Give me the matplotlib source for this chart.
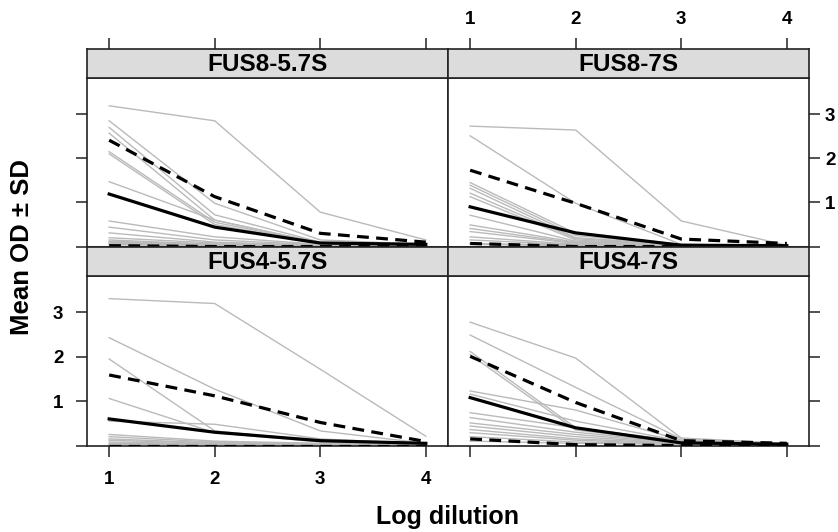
import matplotlib
matplotlib.use("Agg")
import matplotlib.pyplot as plt

plt.rcParams['font.family'] = ['Liberation Sans', 'DejaVu Sans']
plt.rcParams['font.weight'] = 'bold'

dilution = [1, 2, 3, 4]

# individual sera (grey lines), one row per serum, values at dilution 1..4
fus8_57_sera = [
    [3.19, 2.85, 0.78, 0.15],
    [2.85, 0.98, 0.15, 0.05],
    [2.70, 0.72, 0.10, 0.04],
    [2.57, 0.60, 0.08, 0.03],
    [2.15, 0.55, 0.07, 0.03],
    [2.10, 0.50, 0.06, 0.03],
    [1.47, 0.60, 0.08, 0.03],
    [0.58, 0.22, 0.05, 0.02],
    [0.44, 0.15, 0.04, 0.02],
    [0.31, 0.10, 0.03, 0.02],
    [0.20, 0.08, 0.03, 0.02],
    [0.15, 0.05, 0.02, 0.02],
    [0.12, 0.06, 0.03, 0.02],
    [0.10, 0.04, 0.02, 0.01],
    [0.08, 0.03, 0.02, 0.01],
    [0.06, 0.03, 0.02, 0.01],
    [0.04, 0.02, 0.01, 0.01],
]
fus8_57_mean = [1.19, 0.44, 0.08, 0.05]
fus8_57_upper = [2.41, 1.13, 0.30, 0.10]
fus8_57_lower = [0.02, 0.00, 0.00, 0.02]

fus8_7_sera = [
    [2.73, 2.64, 0.58, 0.03],
    [2.51, 0.98, 0.05, 0.02],
    [1.45, 0.30, 0.05, 0.02],
    [1.39, 0.25, 0.04, 0.02],
    [1.32, 0.20, 0.04, 0.02],
    [1.21, 0.18, 0.03, 0.02],
    [1.13, 0.15, 0.03, 0.02],
    [0.71, 0.12, 0.03, 0.02],
    [0.49, 0.10, 0.03, 0.01],
    [0.41, 0.08, 0.02, 0.01],
    [0.34, 0.07, 0.02, 0.01],
    [0.22, 0.05, 0.02, 0.01],
    [0.15, 0.04, 0.02, 0.01],
    [0.07, 0.03, 0.01, 0.01],
    [0.05, 0.02, 0.01, 0.01],
]
fus8_7_mean = [0.90, 0.31, 0.03, 0.02]
fus8_7_upper = [1.73, 0.98, 0.17, 0.07]
fus8_7_lower = [0.07, 0.00, 0.00, 0.00]

fus4_57_sera = [
    [3.31, 3.20, 1.72, 0.21],
    [2.43, 1.27, 0.33, 0.05],
    [1.95, 0.33, 0.10, 0.03],
    [1.06, 0.29, 0.08, 0.03],
    [0.55, 0.48, 0.15, 0.04],
    [0.25, 0.10, 0.05, 0.02],
    [0.20, 0.08, 0.04, 0.02],
    [0.15, 0.06, 0.03, 0.02],
    [0.12, 0.05, 0.03, 0.01],
    [0.08, 0.04, 0.02, 0.01],
    [0.05, 0.03, 0.02, 0.01],
    [0.03, 0.02, 0.01, 0.01],
]
fus4_57_mean = [0.60, 0.30, 0.11, 0.05]
fus4_57_upper = [1.59, 1.12, 0.52, 0.09]
fus4_57_lower = [0.00, 0.00, 0.00, 0.00]

fus4_7_sera = [
    [2.78, 1.97, 0.17, 0.05],
    [2.49, 1.31, 0.15, 0.05],
    [2.12, 0.40, 0.10, 0.03],
    [2.05, 0.35, 0.08, 0.03],
    [1.23, 0.80, 0.12, 0.04],
    [1.16, 0.55, 0.10, 0.03],
    [0.74, 0.40, 0.08, 0.03],
    [0.63, 0.30, 0.07, 0.03],
    [0.51, 0.25, 0.06, 0.02],
    [0.44, 0.20, 0.05, 0.02],
    [0.36, 0.15, 0.05, 0.02],
    [0.29, 0.12, 0.04, 0.02],
    [0.20, 0.08, 0.03, 0.02],
    [0.10, 0.05, 0.03, 0.01],
]
fus4_7_mean = [1.08, 0.40, 0.06, 0.03]
fus4_7_upper = [2.01, 0.97, 0.11, 0.05]
fus4_7_lower = [0.15, 0.02, 0.00, 0.00]

panel_titles = ["FUS8-5.7S", "FUS8-7S", "FUS4-5.7S", "FUS4-7S"]
x_ticks = [1, 2, 3, 4]
y_ticks = [0, 1, 2, 3]
y_ticklabels = ["", "1", "2", "3"]

W, H = 838, 532
fig = plt.figure(figsize=(W / 100, H / 100), dpi=100)


def px_axes(x0, y0, x1, y1):
    return fig.add_axes([x0 / W, 1 - y1 / H, (x1 - x0) / W, (y1 - y0) / H])


cols = [(87, 448), (448, 809)]
rows = [((49, 78), (78, 247)), ((247, 276), (276, 446))]
panels = [
    (fus8_57_sera, fus8_57_mean, fus8_57_upper, fus8_57_lower),
    (fus8_7_sera, fus8_7_mean, fus8_7_upper, fus8_7_lower),
    (fus4_57_sera, fus4_57_mean, fus4_57_upper, fus4_57_lower),
    (fus4_7_sera, fus4_7_mean, fus4_7_upper, fus4_7_lower),
]

xlim = (0.79, 4.21)
ylim = (-0.01, 3.82)
edge = "#222222"
tick_kw = dict(length=8, width=1.1, color=edge, labelsize=13.5, direction="out")

for i, (sera, mean, upper, lower) in enumerate(panels):
    r, c = divmod(i, 2)
    (sy0, sy1), (py0, py1) = rows[r]
    x0, x1 = cols[c]

    ax = px_axes(x0, py0, x1, py1)
    for s in sera:
        ax.plot(dilution, s, color="#bababa", lw=1.0, zorder=2)
    ax.plot(dilution, mean, color="black", lw=2.3, zorder=3)
    ax.plot(dilution, upper, color="black", lw=2.3, ls=(0, (3.7, 2.3)), zorder=3)
    ax.plot(dilution, lower, color="black", lw=2.3, ls=(0, (3.7, 2.3)), zorder=3)
    ax.set_xlim(*xlim)
    ax.set_ylim(*ylim)
    for sp in ax.spines.values():
        sp.set_color(edge)
        sp.set_linewidth(1.2)

    # x ticks only on the bottom row
    ax.set_xticks(x_ticks)
    if r == 1:
        ax.tick_params(axis="x", bottom=True, top=False, labelbottom=(c == 0),
                       pad=10, **tick_kw)
    else:
        ax.tick_params(axis="x", bottom=False, top=False, labelbottom=False)

    # y ticks alternate: left column on the left, right column on the right
    ax.set_yticks(y_ticks)
    ax.set_yticklabels(y_ticklabels)
    if c == 0:
        ax.tick_params(axis="y", left=True, right=False, labelleft=(r == 1),
                       labelright=False, pad=9, **tick_kw)
    else:
        ax.tick_params(axis="y", left=False, right=True, labelleft=False,
                       labelright=(r == 0), pad=3.5, **tick_kw)

    # strip with the panel title
    st = px_axes(x0, sy0, x1, sy1)
    st.set_facecolor("#dcdcdc")
    st.set_xlim(*xlim)
    st.set_ylim(0, 1)
    st.set_yticks([])
    for sp in st.spines.values():
        sp.set_color(edge)
        sp.set_linewidth(1.2)
    st.text(0.5, 0.48, panel_titles[i], transform=st.transAxes, ha="center",
            va="center", fontsize=17.5, fontweight="bold")
    st.set_xticks(x_ticks)
    if r == 0:
        st.xaxis.tick_top()
        st.tick_params(axis="x", top=True, bottom=False, labeltop=(c == 1),
                       labelbottom=False, pad=7, **tick_kw)
    else:
        st.tick_params(axis="x", top=False, bottom=False, labeltop=False,
                       labelbottom=False)

fig.text(447 / W, 1 - 517 / H, "Log dilution", ha="center", va="center",
         fontsize=18, fontweight="bold")
fig.text(22 / W, 1 - 247 / H, "Mean OD \u00b1 SD", ha="center", va="center",
         rotation=90, fontsize=18.5, fontweight="bold")

fig.savefig("out.png", dpi=100)
